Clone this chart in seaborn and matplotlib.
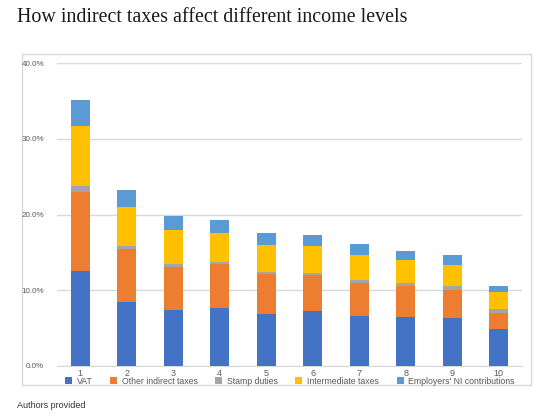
import numpy as np
import pandas as pd
import matplotlib
matplotlib.use("Agg")
import matplotlib.pyplot as plt
from matplotlib.patches import Rectangle
import seaborn as sns

# income deciles and tax shares (% of income)
deciles = ["1", "2", "3", "4", "5", "6", "7", "8", "9", "10"]
vat = [12.5, 8.4, 7.35, 7.6, 6.9, 7.3, 6.6, 6.5, 6.3, 4.85]
other_indirect = [10.5, 7.1, 5.75, 5.8, 5.2, 4.7, 4.3, 4.0, 3.7, 2.15]
stamp_duties = [0.7, 0.4, 0.4, 0.3, 0.3, 0.3, 0.5, 0.4, 0.5, 0.5]
intermediate = [8.0, 5.1, 4.4, 3.9, 3.6, 3.55, 3.3, 3.1, 2.8, 2.3]
employers_ni = [3.4, 2.2, 1.9, 1.7, 1.5, 1.45, 1.4, 1.2, 1.3, 0.8]

series_names = ["VAT", "Other indirect taxes", "Stamp duties",
                "Intermediate taxes", "Employers' NI contributions"]
series_vals = [vat, other_indirect, stamp_duties, intermediate, employers_ni]
colors = ["#4472C4", "#ED7D31", "#A5A5A5", "#FFC000", "#5B9BD5"]

df = pd.DataFrame({"decile": deciles})
cum = np.zeros(len(deciles))
for name, vals in zip(series_names, series_vals):
    cum = cum + np.array(vals)
    df[name] = cum

sns.set_style("white")
plt.rcParams["font.family"] = ["Liberation Sans", "DejaVu Sans"]
fig = plt.figure(figsize=(5.5, 4.2), dpi=100)
ax = fig.add_axes([57 / 550, 54 / 420, 465 / 550, 303 / 420])

# outer chart frame, kept behind everything
fig.patches.append(Rectangle((22 / 550, 35 / 420), 509 / 550, 331 / 420,
                             transform=fig.transFigure, fill=False,
                             edgecolor="#D9D9D9", linewidth=1, zorder=-1))

# draw cumulative totals from the top series down so they look stacked
for name, c in reversed(list(zip(series_names, colors))):
    sns.barplot(data=df, x="decile", y=name, color=c, width=0.41,
                saturation=1, ax=ax, label=name, zorder=3, linewidth=0)

ax.set_ylim(0, 40)
ax.set_xlim(-0.5, 9.5)
ax.set_yticks([0, 10, 20, 30, 40])
ax.set_yticklabels(["0.0%", "10.0%", "20.0%", "30.0%", "40.0%"])
ax.yaxis.grid(True, color="#D9D9D9", linewidth=1, zorder=0)
ax.set_axisbelow(True)
for s in ["top", "right", "left"]:
    ax.spines[s].set_visible(False)
ax.spines["bottom"].set_color("#D9D9D9")
ax.tick_params(axis="both", length=0, labelsize=6.5, colors="#595959")
ax.tick_params(axis="y", labelsize=5.8, pad=9.4)
ax.tick_params(axis="x", pad=2.5)
ax.set_xlabel("")
ax.set_ylabel("")

handles, labels = ax.get_legend_handles_labels()
ax.legend(handles[::-1], labels[::-1], loc="center", ncol=5,
          bbox_to_anchor=(0.527, 1 - 381 / 420), bbox_transform=fig.transFigure,
          frameon=False, fontsize=6.3, handlelength=0.8, handleheight=0.8,
          handletextpad=0.55, columnspacing=2.0, labelcolor="#595959",
          borderpad=0, borderaxespad=0)

fig.text(17 / 550, 1 - 18 / 420, "How indirect taxes affect different income levels",
         family="Liberation Serif", fontsize=14.4, color="#1a1a1a", va="center")
fig.text(17 / 550, 1 - 406 / 420, "Authors provided", fontsize=6.5,
         color="#333333", va="center")

fig.savefig("out.png", dpi=100)
